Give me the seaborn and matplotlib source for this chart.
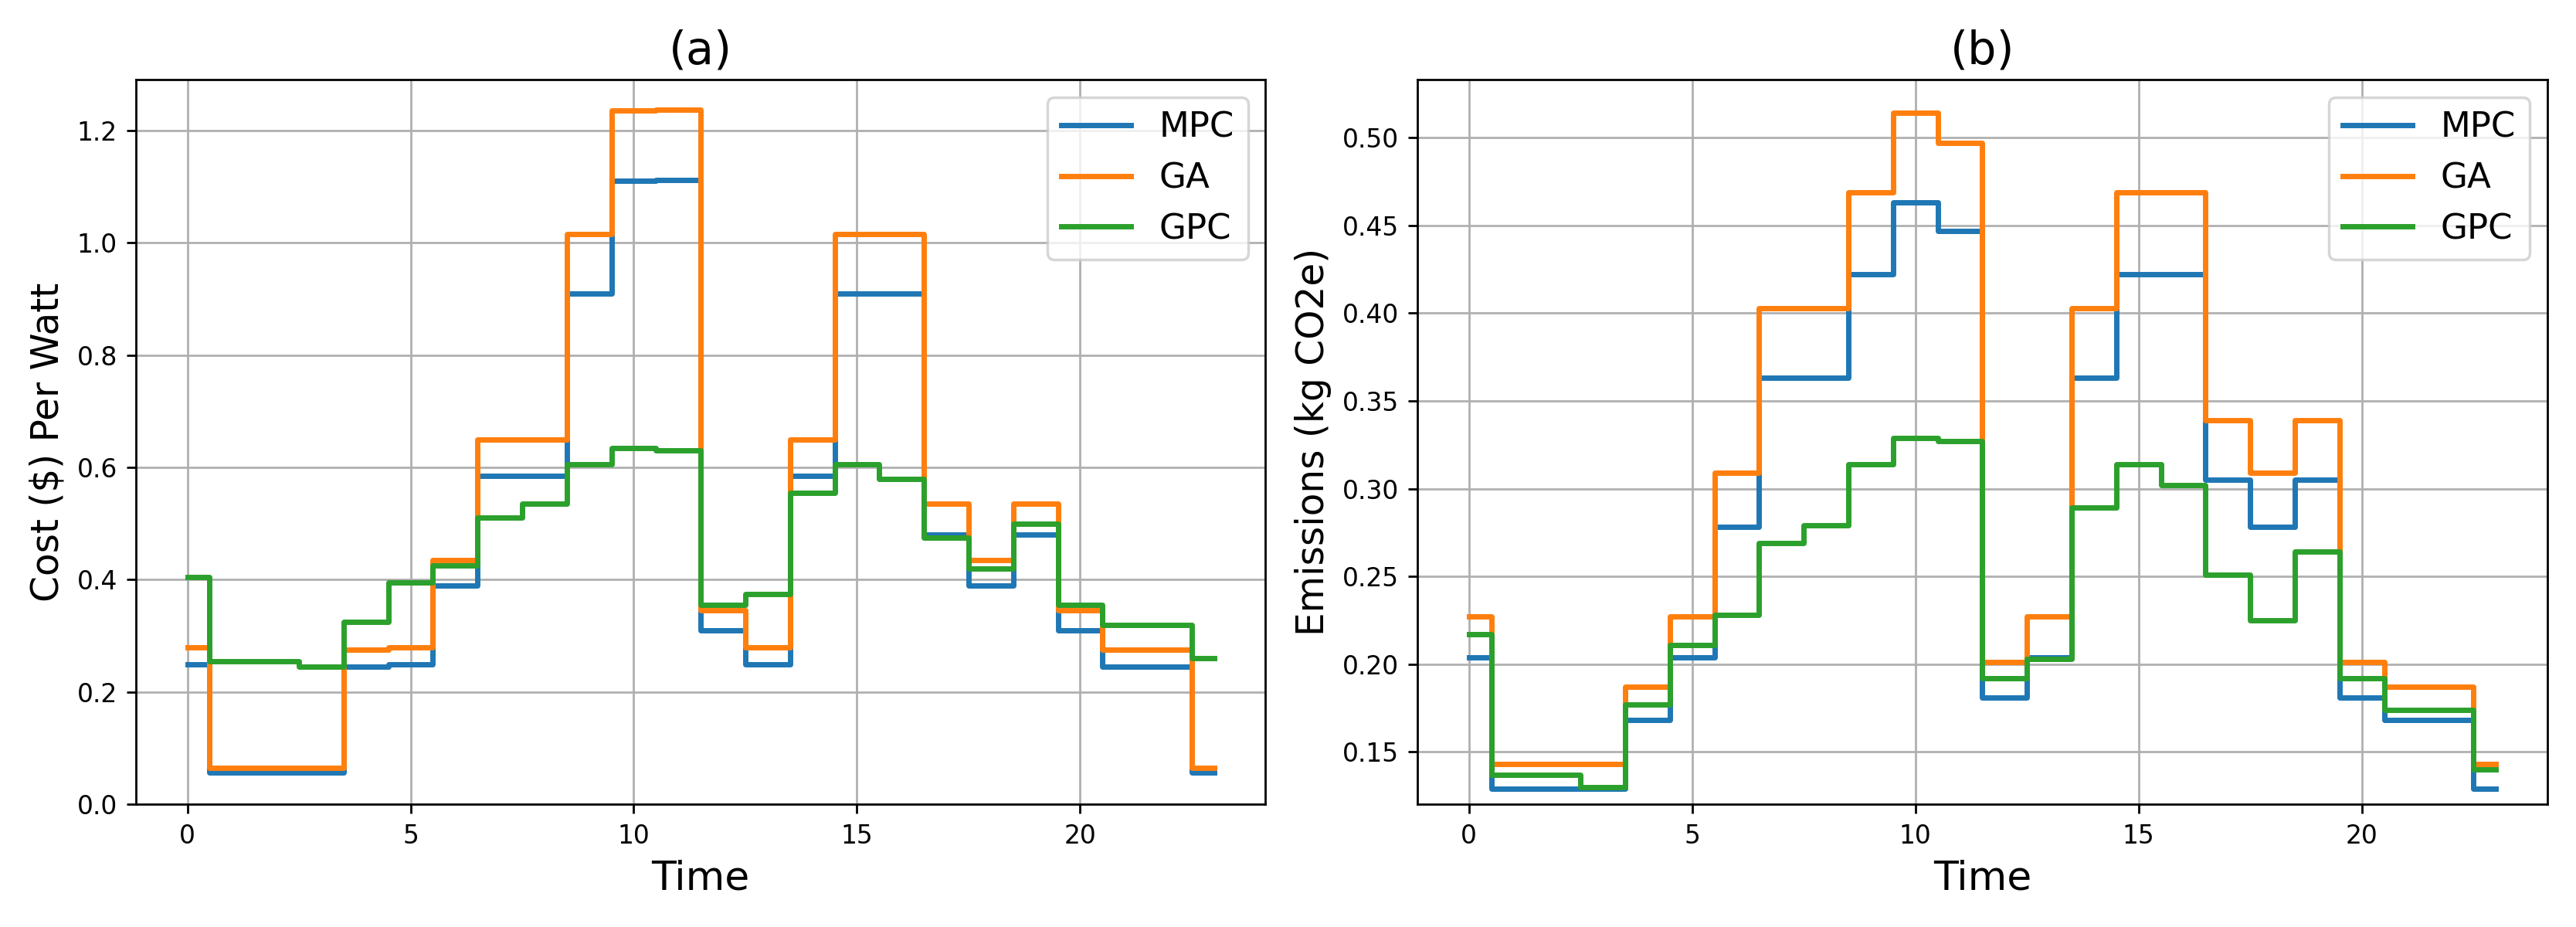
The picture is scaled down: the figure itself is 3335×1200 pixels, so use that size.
import numpy as np
import pandas as pd
import seaborn as sns
import matplotlib
matplotlib.use("Agg")
import matplotlib.pyplot as plt

time = list(range(24))
cost_mpc = [0.25,0.057,0.057,0.057,0.245,0.25,0.39,0.585,0.585,0.91,1.11,1.112,0.31,0.25,0.585,0.91,0.91,0.48,0.39,0.48,0.31,0.245,0.245,0.057]
cost_ga = [0.28,0.065,0.065,0.065,0.275,0.28,0.435,0.65,0.65,1.015,1.235,1.237,0.345,0.28,0.65,1.015,1.015,0.535,0.435,0.535,0.345,0.275,0.275,0.065]
cost_gpc = [0.405,0.255,0.255,0.245,0.325,0.395,0.425,0.51,0.535,0.605,0.635,0.63,0.355,0.375,0.555,0.605,0.58,0.475,0.42,0.5,0.355,0.32,0.32,0.26]
em_mpc = [0.204,0.129,0.129,0.129,0.168,0.204,0.278,0.363,0.363,0.422,0.463,0.447,0.181,0.204,0.363,0.422,0.422,0.305,0.278,0.305,0.181,0.168,0.168,0.129]
em_ga = [0.227,0.143,0.143,0.143,0.187,0.227,0.309,0.403,0.403,0.469,0.514,0.497,0.201,0.227,0.403,0.469,0.469,0.339,0.309,0.339,0.201,0.187,0.187,0.143]
em_gpc = [0.217,0.137,0.137,0.130,0.177,0.211,0.228,0.269,0.279,0.314,0.329,0.327,0.192,0.203,0.289,0.314,0.302,0.251,0.225,0.264,0.192,0.174,0.174,0.140]

methods = ["MPC", "GA", "GPC"]
colors = ["#1f77b4", "#ff7f0e", "#2ca02c"]

def make_df(a, b, c):
    return pd.DataFrame({"Time": time * 3,
                         "value": a + b + c,
                         "Method": sum([[m] * 24 for m in methods], [])})

fig, axes = plt.subplots(1, 2, figsize=(13.34, 4.8), dpi=250)
panels = [(make_df(cost_mpc, cost_ga, cost_gpc), "(a)", "Cost ($) Per Watt"),
          (make_df(em_mpc, em_ga, em_gpc), "(b)", "Emissions (kg CO2e)")]
for ax, (df, title, ylabel) in zip(axes, panels):
    sns.lineplot(data=df, x="Time", y="value", hue="Method", palette=colors,
                 drawstyle="steps-mid", linewidth=2, ax=ax)
    ax.grid(True, color="#b0b0b0", linewidth=0.8)
    ax.set_title(title, fontsize=17)
    ax.set_xlabel("Time", fontsize=15)
    ax.set_ylabel(ylabel, fontsize=14)
    ax.set_xticks([0, 5, 10, 15, 20])
    ax.tick_params(labelsize=9.5)
    ax.legend(title=None, fontsize=13, loc="upper right")
axes[0].set_ylim(0, 1.29)
axes[0].set_yticks(np.arange(0, 1.21, 0.2))
axes[1].set_ylim(0.12, 0.533)
fig.tight_layout()
fig.savefig("out.png")
